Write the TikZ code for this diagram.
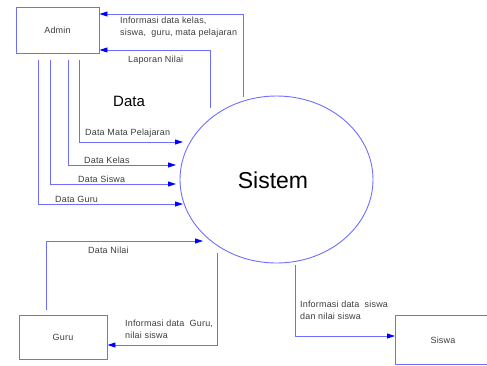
\documentclass[tikz,border=0pt]{standalone}
\usepackage{fontspec}
\setmainfont{Liberation Sans}
\newfontfamily\lblfont[LetterSpace=2]{Liberation Sans}
\usetikzlibrary{arrows.meta,calc,shapes.geometric}
\definecolor{ln}{RGB}{110,110,255}
\definecolor{tx}{RGB}{60,60,60}
\tikzset{
  x=1pt,y=-1pt,
  ent/.style={draw=ln,line width=0.9pt,inner sep=0pt,font=\lblfont\fontsize{9}{10}\selectfont,text=tx},
  flow/.style={draw=ln,line width=0.9pt,-{Triangle[length=8pt,width=5pt,fill=blue,color=blue]}},
  lbl/.style={anchor=west,inner sep=0pt,text=tx,font=\lblfont\fontsize{9}{12}\selectfont,align=left},
}
\begin{document}
\begin{tikzpicture}
\useasboundingbox (0,0) rectangle (487,365);
% entities
\node[ent,minimum width=83pt,minimum height=46pt] (admin) at (57.5,30) {Admin};
\node[ent,minimum width=88pt,minimum height=44pt] (guru) at (63,337) {Guru};
\node[ent,minimum width=95pt,minimum height=49pt,anchor=west] (siswa) at (395,339.5) {};
\node[text=tx,font=\lblfont\fontsize{9}{10}\selectfont] (siswatxt) at (443,340) {Siswa};
\node[draw=ln,line width=0.9pt,ellipse,minimum width=193pt,minimum height=167pt,inner sep=0pt] (sys) at (276.5,179.5) {};
\node[font=\fontsize{23}{26}\selectfont,text=black,inner sep=0pt] (systxt) at (273,180) {Sistem};
% coordinates
\coordinate (s1) at (243,97);
\coordinate (s2) at (210,108);
\coordinate (a1) at (79,60);
\coordinate (a2) at (68,60);
\coordinate (a3) at (50,60);
\coordinate (a4) at (38,60);
\coordinate (e1) at (183,142);
\coordinate (e2) at (176,165);
\coordinate (e3) at (176,184);
\coordinate (e4) at (183,204);
\coordinate (g1) at (46,310);
\coordinate (e5) at (203,241);
\coordinate (s3) at (217,253);
\coordinate (s4) at (295,265);
% flows
\draw[flow] (s1) |- (admin.east |- 0,14);
\draw[flow] (s2) |- (admin.east |- 0,50);
\draw[flow] (a1) |- (e1);
\draw[flow] (a2) |- (e2);
\draw[flow] (a3) |- (e3);
\draw[flow] (a4) |- (e4);
\draw[flow] (g1) |- (e5);
\draw[flow] (s3) |- (guru.east |- 0,345);
\draw[flow] (s4) |- (siswa.west |- 0,336);
% labels
\node[lbl] (l1) at (120,27.5) {Informasi data kelas,\\siswa,\ \ guru, mata pelajaran};
\node[lbl] (l2) at (128,60) {Laporan Nilai};
\node[lbl,font=\fontsize{15}{17}\selectfont,text=black] (l3) at (113,101) {Data};
\node[lbl] (l4) at (85,133) {Data Mata Pelajaran};
\node[lbl] (l5) at (84,160.5) {Data Kelas};
\node[lbl] (l6) at (78,179.5) {Data Siswa};
\node[lbl] (l7) at (55,199) {Data Guru};
\node[lbl] (l8) at (88,250) {Data Nilai};
\node[lbl] (l9) at (125,329) {Informasi data\ \ Guru,\\nilai siswa};
\node[lbl] (l10) at (300,310) {Informasi data\ \ siswa\\dan nilai siswa};
\end{tikzpicture}
\end{document}
